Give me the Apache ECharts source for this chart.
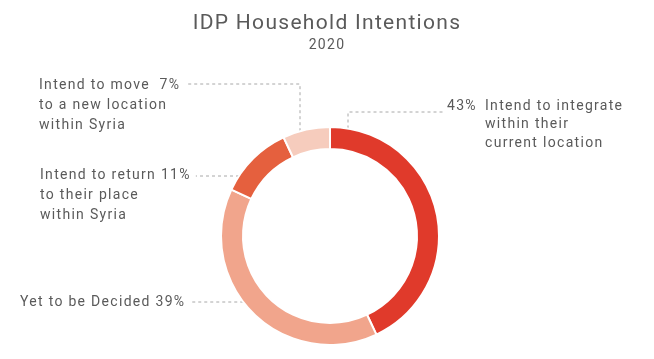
<!DOCTYPE html>
<html>
<head>
<meta charset="utf-8">
<script src="https://cdn.jsdelivr.net/npm/echarts@6/dist/echarts.min.js"></script>
<style>
  html, body { margin: 0; padding: 0; background: #ffffff; }
  #chart { width: 654px; height: 359px; }
</style>
</head>
<body>
<div id="chart"></div>
<script>
// Slightly tracked-out lettering for every canvas text (drawing and measuring)
(function () {
  const orig = HTMLCanvasElement.prototype.getContext;
  HTMLCanvasElement.prototype.getContext = function (type, opts) {
    const ctx = orig.call(this, type, opts);
    if (ctx && type === '2d' && 'letterSpacing' in ctx && !ctx.__tracked) {
      ctx.letterSpacing = '1.3px';
      ctx.__tracked = true;
    }
    return ctx;
  };
})();

// IDP household intentions, 2020 (share of households, %)
const categories = [
  'Intend to integrate within their current location',
  'Yet to be Decided',
  'Intend to return to their place within Syria',
  'Intend to move to a new location within Syria'
];
const shares = [43, 39, 11, 7];
const sliceColors = ['#e03a2b', '#f1a58c', '#e5603e', '#f6ccbd'];

const FONT = 'Roboto, "Noto Sans", sans-serif';
const TEXT = '#5a5a5a';
const CENTER = [330, 236];
const RADIUS = [87, 109];

// Label text for each slice, built from the category name and its share
function labelText(i) {
  const p = shares[i] + '%';
  switch (i) {
    case 0: return '{p|' + p + '}{r|Intend to integrate}\n{p|}{r|within their}\n{p|}{r|current location}';
    case 1: return '{t|Yet to be Decided ' + p + '}';
    case 2: return '{t|Intend to return ' + p + '}\n{t|to their place}\n{t|within Syria}';
    case 3: return '{t|Intend to move  ' + p + '}\n{t|to a new location}\n{t|within Syria}';
  }
}

// Where each label block sits (top-left corner) and how its leader line runs
const labelSpots = [
  { x: 447, y: 97,  side: 'right', lineY: 112, elbowX: 348 },
  { x: 20,  y: 292, side: 'left',  lineY: 302 },
  { x: 40,  y: 165, side: 'left',  lineY: 176 },
  { x: 39,  y: 75,  side: 'left',  lineY: 84,  elbowX: 300 }
];

// Point on the outer edge of the ring at a given horizontal line (left half)
function ringXAt(y) {
  const dy = y - CENTER[1];
  return CENTER[0] - Math.sqrt(RADIUS[1] * RADIUS[1] - dy * dy);
}
// Point on the outer edge of the ring at a given x (top half)
function ringYAt(x) {
  const dx = x - CENTER[0];
  return CENTER[1] - Math.sqrt(RADIUS[1] * RADIUS[1] - dx * dx);
}

const chart = echarts.init(document.getElementById('chart'), null, { renderer: 'canvas' });

chart.setOption({
  backgroundColor: '#ffffff',
  animation: false,
  title: {
    text: 'IDP Household Intentions',
    subtext: '2020',
    left: 'center',
    top: 8,
    itemGap: 3,
    textStyle: { fontFamily: FONT, fontSize: 21, fontWeight: 'normal', color: TEXT },
    subtextStyle: { fontFamily: FONT, fontSize: 14, color: TEXT }
  },
  series: [{
    type: 'pie',
    center: CENTER,
    radius: RADIUS,
    startAngle: 90,
    clockwise: true,
    silent: true,
    itemStyle: { borderColor: '#ffffff', borderWidth: 2 },
    data: categories.map((name, i) => ({
      name: name,
      value: shares[i],
      itemStyle: { color: sliceColors[i] }
    })),
    label: {
      show: true,
      overflow: 'none',
      formatter: (p) => labelText(p.dataIndex),
      rich: {
        p: { fontFamily: FONT, fontSize: 14, color: TEXT, width: 38, lineHeight: 18.5 },
        r: { fontFamily: FONT, fontSize: 14, color: TEXT, lineHeight: 18.5 },
        t: { fontFamily: FONT, fontSize: 14, color: TEXT, lineHeight: 20 }
      }
    },
    labelLine: {
      show: true,
      lineStyle: { color: '#a8a8a8', width: 1, type: [3, 3] }
    },
    labelLayout: function (params) {
      const i = params.dataIndex;
      const s = labelSpots[i];
      const w = params.labelRect.width;
      let pts;
      if (s.side === 'right') {
        pts = [[s.elbowX, ringYAt(s.elbowX)], [s.elbowX, s.lineY], [s.x - 2, s.lineY]];
      } else if (s.elbowX !== undefined) {
        pts = [[s.elbowX, ringYAt(s.elbowX)], [s.elbowX, s.lineY], [s.x + w + 5, s.lineY]];
      } else {
        const rx = ringXAt(s.lineY);
        pts = [[rx, s.lineY], [rx - 5, s.lineY], [s.x + w + 5, s.lineY]];
      }
      return {
        x: s.x,
        y: s.y,
        align: 'left',
        verticalAlign: 'top',
        labelLinePoints: pts
      };
    }
  }]
});
</script>
</body>
</html>
